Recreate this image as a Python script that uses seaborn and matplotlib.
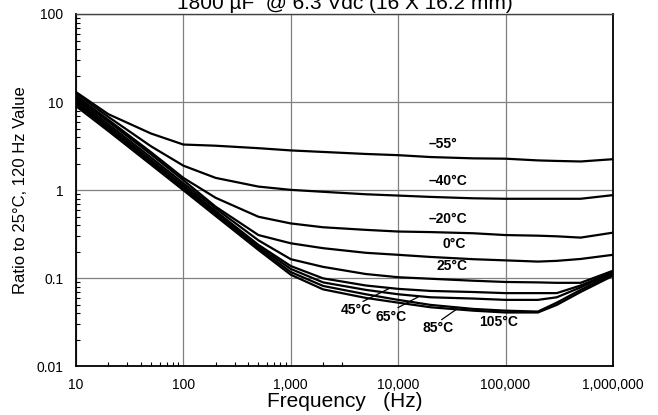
import numpy as np
import pandas as pd
import matplotlib
matplotlib.use("Agg")
import matplotlib.pyplot as plt
import matplotlib.ticker as mticker
import seaborn as sns

# ---- data -------------------------------------------------------------
freqs = [10, 20, 50, 100, 200, 500, 1e3, 2e3, 5e3, 1e4, 2e4, 5e4, 1e5, 2e5, 3e5, 5e5, 1e6]

temps = ["–55°", "–40°C", "–20°C", "0°C", "25°C", "45°C", "65°C", "85°C", "105°C"]

r_m55 = [13.0, 7.3, 4.4, 3.3, 3.2, 3.0, 2.83, 2.72, 2.58, 2.5, 2.38, 2.3, 2.28, 2.18, 2.15, 2.12, 2.25]
r_m40 = [12.5, 6.8, 3.15, 1.9, 1.38, 1.1, 1.01, 0.96, 0.9, 0.87, 0.84, 0.81, 0.80, 0.80, 0.80, 0.80, 0.88]
r_m20 = [11.8, 6.3, 2.7, 1.38, 0.82, 0.50, 0.42, 0.38, 0.355, 0.34, 0.335, 0.325, 0.31, 0.305, 0.30, 0.29, 0.33]
r_0 = [11.3, 6.0, 2.55, 1.3, 0.65, 0.31, 0.25, 0.22, 0.195, 0.185, 0.175, 0.165, 0.16, 0.155, 0.158, 0.166, 0.185]
r_25 = [10.8, 5.6, 2.35, 1.2, 0.62, 0.27, 0.165, 0.135, 0.112, 0.103, 0.099, 0.094, 0.091, 0.09, 0.089, 0.089, 0.122]
r_45 = [10.2, 5.3, 2.2, 1.13, 0.58, 0.24, 0.138, 0.10, 0.083, 0.076, 0.072, 0.07, 0.068, 0.068, 0.068, 0.083, 0.118]
r_65 = [9.8, 5.1, 2.1, 1.08, 0.55, 0.23, 0.128, 0.09, 0.074, 0.066, 0.061, 0.059, 0.057, 0.057, 0.061, 0.079, 0.115]
r_85 = [9.4, 4.9, 2.0, 1.04, 0.53, 0.22, 0.118, 0.082, 0.066, 0.057, 0.05, 0.045, 0.043, 0.042, 0.053, 0.074, 0.111]
r_105 = [9.0, 4.7, 1.95, 1.0, 0.51, 0.21, 0.11, 0.075, 0.06, 0.053, 0.047, 0.043, 0.041, 0.041, 0.05, 0.07, 0.107]

series = [r_m55, r_m40, r_m20, r_0, r_25, r_45, r_65, r_85, r_105]

# label anchor positions (freq, value) and leader lines
label_pos = {
    "–55°": (26300, 3.36), "–40°C": (29300, 1.26), "–20°C": (29300, 0.47),
    "0°C": (33000, 0.247), "25°C": (31900, 0.137), "45°C": (4100, 0.0433),
    "65°C": (8500, 0.0364), "85°C": (23600, 0.0273), "105°C": (87000, 0.0316),
}
leaders = [((4700, 0.0547), (8400, 0.0776)),
           ((9950, 0.0465), (15300, 0.0614)),
           ((25400, 0.034), (35500, 0.0452))]

title = "1800 µF  @ 6.3 Vdc (16 X 16.2 mm)"
xlabel = "Frequency   (Hz)"
ylabel = "Ratio to 25°C, 120 Hz Value"
xticks = [10, 100, 1000, 10000, 100000, 1000000]
xtick_labels = ["10", "100", "1,000", "10,000", "100,000", "1,000,000"]
yticks = [0.01, 0.1, 1, 10, 100]
ytick_labels = ["0.01", "0.1", "1", "10", "100"]

# ---- build frame --------------------------------------------------------
rows = []
for t, vals in zip(temps, series):
    for f, v in zip(freqs, vals):
        rows.append({"freq": f, "ratio": v, "temp": t})
df = pd.DataFrame(rows)

sns.set_theme(style="white")
plt.rcParams["font.family"] = ["Liberation Sans", "DejaVu Sans"]

fig = plt.figure(figsize=(6.58, 4.15), dpi=100)
ax = fig.add_axes([0.1155, 0.1169, 0.816, 0.8494])

sns.lineplot(data=df, x="freq", y="ratio", hue="temp", hue_order=temps,
             palette=["black"] * len(temps), legend=False, ax=ax,
             linewidth=1.6, estimator=None, sort=False)

ax.set_xscale("log")
ax.set_yscale("log")
ax.set_xlim(10, 1e6)
ax.set_ylim(0.01, 100)

ax.set_xticks(xticks)
ax.set_xticklabels(xtick_labels, fontsize=10)
ax.set_yticks(yticks)
ax.set_yticklabels(ytick_labels, fontsize=10)

ax.xaxis.set_minor_locator(mticker.FixedLocator([20, 30, 40, 50, 60, 70, 80, 90,
                                                 200, 300, 400, 500, 600, 700, 800, 900,
                                                 2000, 3000]))
ax.yaxis.set_minor_locator(mticker.LogLocator(base=10, subs=np.arange(2, 10)))
ax.xaxis.set_minor_formatter(mticker.NullFormatter())
ax.yaxis.set_minor_formatter(mticker.NullFormatter())

ax.tick_params(axis="both", which="major", direction="out", length=4, width=1,
               color="black", labelcolor="black")
ax.tick_params(axis="x", which="major", pad=4)
ax.tick_params(axis="y", which="major", pad=5)
ax.tick_params(axis="both", which="minor", direction="in", length=3, width=0.8,
               color="black", bottom=True, left=True)

ax.grid(True, which="major", color="#808080", linewidth=0.9)
ax.grid(False, which="minor")

for s in ax.spines.values():
    s.set_color("black")
    s.set_linewidth(1.3)
ax.spines["top"].set_color("#404040")
ax.spines["top"].set_linewidth(1.0)

ax.set_xlabel(xlabel, fontsize=15, labelpad=0, color="black")
ax.set_ylabel(ylabel, fontsize=12, labelpad=6, color="black")

for t in temps:
    fx, fy = label_pos[t]
    ax.text(fx, fy, t, fontsize=10, fontweight="bold", ha="center", va="center",
            color="black")
for (a, b) in leaders:
    ax.plot([a[0], b[0]], [a[1], b[1]], color="black", linewidth=0.9)

fig.text(0.5235, 0.9795, title, fontsize=15, ha="center", va="baseline", color="black")

fig.savefig("out.png", dpi=100)
